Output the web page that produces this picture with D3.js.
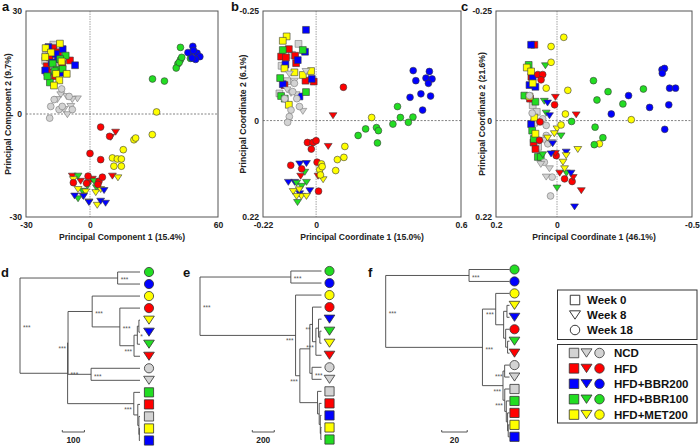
<!DOCTYPE html>
<html><head><meta charset="utf-8">
<script src="https://cdn.jsdelivr.net/npm/d3@7"></script>
<style>body{margin:0;background:#fff} svg text{font-family:"Liberation Sans",Arial,sans-serif}</style>
</head><body><svg id="chart" width="700" height="447"></svg>
<script>
// ---------------- DATA ----------------
const groups = ["NCD","HFD","HFD+BBR200","HFD+BBR100","HFD+MET200"];
const groupColors = {"NCD":"#d3d3d3","HFD":"#ff0000","HFD+BBR200":"#0000ff","HFD+BBR100":"#22dd22","HFD+MET200":"#ffff00"};
const weeks = ["Week 0","Week 8","Week 18"];   // square, triangle, circle

// Panel a: PCA scores  [group, weekIndex, points]
const pcaA = [
 ["NCD",0,[[-17.2,20.2],[-20.8,17],[-14.1,13.7],[-19,18.5],[-16,16],[-18,14],[-12.5,16.5],[-21,15.5]]],
 ["HFD",0,[[-17.2,19.2],[-9.4,15.6],[-20.3,13.9],[-20,12.1],[-15,18],[-19,16.5],[-13,14.5],[-16.5,11]]],
 ["HFD+BBR200",0,[[-19.5,19.5],[-12.8,18.9],[-7,14.2],[-21,12.7],[-15,16],[-14,12],[-18,15],[-16,17.5]]],
 ["HFD+BBR100",0,[[-11.4,17],[-17.5,14.7],[-15.6,12.9],[-12.8,13.1],[-18.8,9.2],[-14,16],[-16.5,12.5],[-20,11]]],
 ["HFD+MET200",0,[[-14.1,20.5],[-20.8,19.2],[-18.3,17.9],[-21,16.6],[-13.3,15.3],[-15.9,11.7],[-10.9,11.7],[-14.4,9.8],[-16.9,8.3]]],
 ["NCD",1,[[-5.9,4.4],[-8.3,4.2],[-10.9,5.1],[-13.7,5.6],[-10.6,-0.2],[-12.2,1.3],[-15.3,4.2],[-9,2.2]]],
 ["NCD",2,[[-13.3,7.3],[-16.8,4.2],[-18.4,2.2],[-14.5,1.3],[-18.9,-1.2],[-8.3,1.3],[-9.8,5.1],[-13,2.2]]],
 ["HFD",1,[[12,-5.3],[9.7,-6.8],[10.5,-18.1],[-8.3,-18.1],[-4.4,-19.6],[-0.5,-20],[1.1,-19]]],
 ["HFD+BBR100",1,[[-5.6,-18.1],[-5.6,-24.7],[1.9,-19.6],[-1.2,-21],[-3.5,-22.5],[3,-21.5]]],
 ["HFD+MET200",1,[[13.1,-18.6],[-5.6,-22],[-2,-22.7],[3.4,-26.6],[-0.5,-25.6],[-3.3,-23.9],[2.7,-22.9],[5,-22],[-7.8,-19.1]]],
 ["HFD+BBR200",1,[[-7.2,-23.9],[-0.5,-25.8],[5,-25.4],[7.3,-26],[6.6,-22.3],[-3,-24]]],
 ["HFD",2,[[5,-3.8],[9.2,-6.5],[0,-11.5],[5,-13.3],[-7.8,-20],[-0.9,-18.1],[4.2,-19.6],[5.8,-18.4],[-1.6,-20.2],[3.7,-20.5]]],
 ["HFD+MET200",2,[[31.2,0.6],[29.2,-6],[20.6,-7.5],[21.4,-7],[15.6,-10.4],[10.5,-12.8],[12.8,-13.1],[14.7,-13.1],[11.2,-15.2],[14.7,-15.2]]],
 ["HFD+BBR100",2,[[42.4,19.4],[42.4,15.8],[41.2,14.6],[40.4,13.4],[41.8,15],[29.3,10.2],[34.9,9.6],[47.1,16.2],[43,16.5]]],
 ["HFD+BBR200",2,[[48.2,19.7],[47.1,17.7],[50.2,17.7],[51.5,16.7],[49.5,15.9],[45.9,17.9],[48.5,18.5],[47.8,16.3]]]
];

// Panel b: PCoA scores
const pcoaB = [
 ["NCD",0,[[-0.073,-0.175],[-0.143,-0.125],[-0.152,-0.062],[-0.10,-0.15],[-0.12,-0.09]]],
 ["HFD",0,[[-0.113,-0.163],[-0.145,-0.146],[-0.125,-0.144],[-0.087,-0.148],[-0.083,-0.131],[-0.044,-0.091],[-0.010,-0.089],[-0.131,-0.081]]],
 ["HFD+BBR200",0,[[-0.042,-0.207],[-0.046,-0.157],[-0.076,-0.138],[-0.127,-0.128],[-0.138,-0.083],[-0.018,-0.095],[-0.069,-0.055]]],
 ["HFD+BBR100",0,[[-0.138,-0.161],[-0.055,-0.161],[-0.149,-0.097],[-0.145,-0.056],[-0.042,-0.065],[-0.13,-0.05]]],
 ["HFD+MET200",0,[[-0.122,-0.192],[-0.138,-0.182],[-0.131,-0.119],[-0.090,-0.110],[-0.055,-0.104],[-0.021,-0.113],[-0.113,-0.036]]],
 ["NCD",1,[[-0.111,-0.106],[-0.042,-0.112],[-0.104,-0.062],[-0.083,-0.059],[-0.055,-0.021],[-0.12,-0.07],[-0.09,-0.09]]],
 ["NCD",2,[[-0.090,-0.085],[-0.097,-0.066],[-0.069,-0.032],[-0.104,-0.024],[-0.111,-0.009],[-0.118,0.004],[-0.13,-0.05],[-0.08,-0.05]]],
 ["HFD",1,[[0.070,-0.011],[0.050,0.059],[0.008,0.127],[-0.064,0.127]]],
 ["HFD+BBR200",1,[[-0.068,0.099],[-0.040,0.098],[-0.089,0.141],[-0.026,0.16],[-0.068,0.167],[-0.115,0.141]]],
 ["HFD+BBR100",1,[[-0.047,0.118],[-0.077,0.187],[-0.081,0.143],[-0.040,0.141],[-0.060,0.150]]],
 ["HFD+MET200",1,[[-0.095,0.162],[-0.061,0.173],[-0.040,0.173],[-0.081,0.173],[0.029,0.135],[-0.070,0.158]]],
 ["HFD",2,[[0.113,-0.076],[-0.036,0.05],[-0.013,0.05],[0.0,0.046],[-0.02,0.065],[0.004,0.095],[-0.105,0.102],[0.010,0.161],[-0.06,0.11]]],
 ["HFD+MET200",2,[[0.230,-0.007],[0.119,0.059],[0.115,0.084],[0.088,0.089],[0.081,0.114],[0.022,0.099],[0.015,0.112],[0.018,0.124],[0.025,0.105]]],
 ["HFD+BBR100",2,[[0.337,-0.032],[0.349,-0.007],[0.401,-0.008],[0.382,0.004],[0.318,0.008],[0.250,0.016],[0.205,0.019],[0.174,0.034],[0.258,0.023],[0.254,0.051]]],
 ["HFD+BBR200",2,[[0.402,-0.114],[0.413,-0.091],[0.455,-0.097],[0.469,-0.112],[0.480,-0.095],[0.465,-0.085],[0.389,-0.053],[0.434,-0.061],[0.474,-0.056],[0.441,-0.024]]]
];

// Panel c: PCoA scores
const pcoaC = [
 ["NCD",0,[[0.09,-0.035],[0.075,-0.02],[0.085,0.005],[0.07,0.06]]],
 ["HFD",0,[[0.084,-0.173],[0.087,0.050],[0.095,-0.10],[0.08,0.065],[0.10,-0.05]]],
 ["HFD+BBR200",0,[[0.096,-0.173],[0.102,-0.081],[0.080,-0.077],[0.096,0.008],[0.09,-0.10]]],
 ["HFD+BBR100",0,[[0.105,-0.127],[0.121,-0.057],[0.080,-0.043],[0.092,0.023],[0.086,0.042],[0.071,0.083],[0.06,0.083]]],
 ["HFD+MET200",0,[[0.112,-0.121],[0.096,-0.112],[0.102,-0.055],[0.084,-0.007],[0.09,-0.085],[0.08,0.03]]],
 ["NCD",2,[[0.102,-0.057],[0.092,-0.017],[0.053,-0.004],[0.040,0.011],[0.040,0.034],[0.034,0.053],[0.047,0.095],[0.018,0.129],[0.024,0.172]]],
 ["NCD",1,[[0.047,0.045],[0.040,0.129],[0.028,0.110],[0.06,0.10],[0.02,0.05]]],
 ["HFD",2,[[0.071,-0.105],[0.053,-0.105],[0.059,-0.093],[0.063,0.003],[0.065,0.045],[0.009,-0.036],[0.003,0.080],[-0.028,0.133],[-0.056,0.139]]],
 ["HFD",1,[[0.006,-0.053],[-0.071,-0.013],[-0.090,0.160],[0.006,0.075],[-0.06,0.13],[-0.01,0.12]]],
 ["HFD+BBR100",1,[[0.043,-0.125],[0.047,-0.044],[0.040,-0.017],[0.0,0.154],[0.053,0.078],[-0.015,0.035],[-0.035,0.12]]],
 ["HFD+BBR200",1,[[0.028,-0.011],[0.016,0.053],[0.022,0.076],[-0.034,0.072],[-0.065,0.197],[-0.052,0.120],[0.035,-0.04]]],
 ["HFD+MET200",1,[[0.0,0.019],[-0.077,0.066],[-0.034,0.080],[-0.022,0.095],[-0.028,0.110],[0.035,0.04],[0.01,0.03]]],
 ["HFD+MET200",2,[[-0.025,-0.190],[0.022,-0.169],[0.022,-0.133],[0.040,-0.074],[-0.040,-0.069],[-0.031,-0.015],[-0.015,0.010],[-0.275,-0.002],[-0.157,0.053]]],
 ["HFD+BBR100",2,[[-0.135,-0.091],[-0.189,-0.066],[-0.148,-0.047],[-0.244,-0.038],[-0.320,-0.072],[-0.054,0.002],[-0.141,0.015],[-0.170,0.039],[-0.138,0.055]]],
 ["HFD+BBR200",2,[[-0.389,-0.116],[-0.398,-0.119],[-0.390,-0.108],[-0.417,-0.074],[-0.439,-0.074],[-0.414,-0.036],[-0.343,-0.030],[-0.265,-0.057],[-0.201,-0.015],[-0.399,0.020]]]
];

// axis domains and tick labels
const domainA = {x:[-30,60], y:[30,-30]};
const ticksA  = {x:[-30,0,60], xl:["-30","0","60"], y:[30,0,-30], yl:["30","0","-30"]};
const domainB = {x:[-0.22,0.6], y:[-0.25,0.22]};
const ticksB  = {x:[-0.22,0,0.6], xl:["-0.22","0","0.6"], y:[-0.25,0,0.22], yl:["-0.25","0","0.22"]};
const domainC = {x:[0.226,-0.5], y:[-0.25,0.22]};
const ticksC  = {x:[0.226,0,-0.5], xl:["0.2","0","-0.5"], y:[-0.25,0,0.22], yl:["-0.25","0","0.22"]};
const titles = {
  a:["Principal Component 1 (15.4%)","Principal Component 2 (9.7%)"],
  b:["Principal Coordinate 1 (15.0%)","Principal Coordinate 2 (6.1%)"],
  c:["Principal Coordinate 1 (46.1%)","Principal Coordinate 2 (21.6%)"]
};

// Dendrograms: N(height, significance, children) / L(group, weekIndex)
function N(h, sig, c){ return {h, sig, children:c}; }
function L(g, w){ return {g, w}; }
const treeD = N(0,"***",[
  N(441,"***",[L("HFD+BBR100",2),L("HFD+BBR200",2)]),
  N(215,"***",[
    N(217,"***",[
      N(326,"***",[L("HFD+MET200",2), N(451,"***",[L("HFD",2), N(515,"***",[N(530,"*",[N(537,"",[L("HFD+MET200",1),L("HFD+BBR200",1)]),L("HFD+BBR100",1)]),L("HFD",1)])])]),
      N(321,"***",[L("NCD",2),L("NCD",1)])
    ]),
    N(514,"***",[L("HFD+BBR100",0), N(532,"",[L("HFD",0), N(537,"",[L("NCD",0), N(539,"",[L("HFD+MET200",0),L("HFD+BBR200",0)])])])])
  ])
]);
const treeDMax = 542, treeDBar = 100;
const treeE = N(0,"***",[
  N(827,"***",[L("HFD+BBR100",2),L("HFD+BBR200",2)]),
  N(870,"***",[L("HFD+MET200",2),
    N(909,"***",[
      N(1000,"",[
        N(1024,"**",[L("HFD",2), N(1055,"***",[N(1079,"",[L("HFD+BBR200",1), N(1091,"",[L("HFD+BBR100",1),L("HFD+MET200",1)])]),L("HFD",1)])]),
        N(1020,"***",[L("NCD",2),L("NCD",1)])
      ]),
      N(1070,"",[L("NCD",0), N(1085,"",[L("HFD",0), N(1095,"",[L("HFD+BBR200",0), N(1100,"",[L("HFD+MET200",0),L("HFD+BBR100",0)])])])])
    ])
  ])
]);
const treeEMax = 1106, treeEBar = 200;
const treeF = N(0,"***",[
  N(65.3,"***",[L("HFD+BBR100",2),L("HFD+BBR200",2)]),
  N(75.8,"***",[
    N(86.2,"***",[L("HFD+MET200",2),
      N(92.4,"",[N(95,"",[L("HFD+MET200",1),L("HFD+BBR200",1)]), N(94,"",[L("HFD",2), N(95.5,"",[L("HFD+BBR100",1),L("HFD",1)])])])]),
    N(91.9,"***",[N(93.2,"***",[L("NCD",2),L("NCD",1)]),
      N(93.3,"***",[L("NCD",0), N(94.5,"",[L("HFD+BBR100",0), N(95.5,"",[L("HFD",0), N(96,"",[L("HFD+MET200",0),L("HFD+BBR200",0)])])])])])
  ])
]);
const treeFMax = 97, treeFBar = 20;

// which node labels sit left of their node (by node height)
const leftLabelsD = [515, 514, 217];
const leftLabelsE = [870, 909, 1024, 1055];
const leftLabelsF = [86.2, 91.9, 93.2, 93.3];

// ---------------- DRAWING ----------------
const svg = d3.select("#chart");
const STROKE = "#3a3a3a";

function shapePath(w, s){
  if (w===0) return `M${-s/2},${-s/2}h${s}v${s}h${-s}Z`;
  if (w===1){ const h=s*0.88; return `M${-s*0.58},${-h/2}L${s*0.58},${-h/2}L0,${h/2}Z`; }
  const r=s/2; return `M${-r},0a${r},${r} 0 1,0 ${2*r},0a${r},${r} 0 1,0 ${-2*r},0Z`;
}
function drawSym(sel, g, w, s, fill){
  return sel.append("path").attr("d", shapePath(w,s))
    .attr("fill", fill || groupColors[g])
    .attr("stroke", g==="NCD" ? "#777" : STROKE).attr("stroke-width",0.6);
}

function scatter(opt){
  const {x0,x1,y0,y1} = opt.frame;
  const xs = d3.scaleLinear().domain(opt.dom.x).range([x0,x1]);
  const ys = d3.scaleLinear().domain(opt.dom.y).range([y0,y1]);
  const g = svg.append("g");
  g.append("line").attr("x1",xs(0)).attr("x2",xs(0)).attr("y1",y0).attr("y2",y1)
    .attr("stroke","#9a9a9a").attr("stroke-width",0.9).attr("stroke-dasharray","1.5,1");
  g.append("line").attr("x1",x0).attr("x2",x1).attr("y1",ys(0)).attr("y2",ys(0))
    .attr("stroke","#666").attr("stroke-width",0.8).attr("stroke-dasharray","2,1.5");
  opt.data.forEach(([grp,w,pts])=>{
    pts.forEach(p=>{
      drawSym(g.append("g").attr("transform",`translate(${xs(p[0])},${ys(p[1])})`), grp, w, 6.8);
    });
  });
  g.append("rect").attr("x",x0).attr("y",y0).attr("width",x1-x0).attr("height",y1-y0)
    .attr("fill","none").attr("stroke","#555").attr("stroke-width",1);
  const ax = d3.axisBottom(xs).tickValues(opt.ticks.x).tickSize(0).tickPadding(5)
      .tickFormat((d,i)=>opt.ticks.xl[i]);
  const ay = d3.axisLeft(ys).tickValues(opt.ticks.y).tickSize(0).tickPadding(4)
      .tickFormat((d,i)=>opt.ticks.yl[i]);
  const gx = g.append("g").attr("transform",`translate(0,${y1})`).call(ax);
  const gy = g.append("g").attr("transform",`translate(${x0},0)`).call(ay);
  [gx,gy].forEach(a=>{ a.select(".domain").remove();
    a.selectAll("text").attr("font-size",8.6).attr("font-weight","bold").attr("fill","#222")
     .attr("font-family","Liberation Sans, Arial, sans-serif"); });
  g.append("text").attr("x",(x0+x1)/2).attr("y",y1+23).attr("text-anchor","middle")
    .attr("font-size",8.6).attr("font-weight","bold").attr("fill","#222").text(opt.titles[0]);
  g.append("text").attr("transform",`translate(${opt.ytx},${(y0+y1)/2}) rotate(-90)`)
    .attr("text-anchor","middle").attr("font-size",8.6).attr("font-weight","bold").attr("fill","#222").text(opt.titles[1]);
  g.append("text").attr("x",opt.lx).attr("y",11).attr("font-size",13).attr("font-weight","bold").attr("fill","#111").text(opt.letter);
}

scatter({frame:{x0:26,x1:218,y0:11,y1:217}, dom:domainA, ticks:ticksA, data:pcaA, titles:titles.a, ytx:11, lx:2, letter:"a"});
scatter({frame:{x0:263,x1:461,y0:11,y1:217}, dom:domainB, ticks:ticksB, data:pcoaB, titles:titles.b, ytx:246, lx:231, letter:"b"});
scatter({frame:{x0:496,x1:692,y0:11,y1:217}, dom:domainC, ticks:ticksC, data:pcoaC, titles:titles.c, ytx:485, lx:461, letter:"c"});

function dendro(opt){
  const xs = d3.scaleLinear().domain([0,opt.max]).range([opt.rootX, opt.tipX]);
  const leafY = d3.scaleLinear().domain([0,14]).range([opt.top, opt.bottom]);
  const root = d3.hierarchy(opt.tree);
  let k = 0;
  root.eachAfter(n=>{
    if (!n.children){ n.py = leafY(k++); n.px = opt.tipX; }
    else { n.py = (n.children[0].py + n.children[n.children.length-1].py)/2; n.px = xs(n.data.h); }
  });
  const g = svg.append("g");
  root.each(n=>{
    if (!n.children) return;
    g.append("line").attr("x1",n.px).attr("x2",n.px)
      .attr("y1",n.children[0].py).attr("y2",n.children[n.children.length-1].py);
    n.children.forEach(c=>{
      g.append("line").attr("x1",n.px).attr("x2",c.px).attr("y1",c.py).attr("y2",c.py);
    });
  });
  g.selectAll("line").attr("stroke","#444").attr("stroke-width",0.9);
  root.each(n=>{
    if (n.children && n.data.sig){
      const left = opt.left.includes(n.data.h);
      g.append("text").attr("x", left ? n.px-2 : n.px+3).attr("y", left ? n.py+8 : n.py+4.2)
        .attr("text-anchor", left ? "end" : "start")
        .attr("font-size",6.5).attr("fill","#555").text(n.data.sig);
    }
  });
  root.leaves().forEach(l=>{
    drawSym(g.append("g").attr("transform",`translate(${opt.symX},${l.py})`), l.data.g, l.data.w, 9.2)
      .attr("stroke","#333").attr("stroke-width",0.8);
  });
  const bw = xs(opt.bar) - xs(0);
  g.append("path").attr("d",`M${opt.barX},${opt.barY-2}V${opt.barY}H${opt.barX+bw}V${opt.barY-2}`)
    .attr("fill","none").attr("stroke","#444").attr("stroke-width",0.9);
  g.append("text").attr("x",opt.barX+bw/2).attr("y",opt.barY+10.5).attr("text-anchor","middle")
    .attr("font-size",8.4).attr("font-weight","bold").attr("fill","#222").text(opt.bar);
  g.append("text").attr("x",opt.lx).attr("y",277).attr("font-size",13).attr("font-weight","bold").attr("fill","#111").text(opt.letter);
}
dendro({tree:treeD, max:treeDMax, bar:treeDBar, left:leftLabelsD, rootX:20, tipX:140, symX:149, top:272, bottom:440.5, barX:62.3, barY:432, lx:1, letter:"d"});
dendro({tree:treeE, max:treeEMax, bar:treeEBar, left:leftLabelsE, rootX:200, tipX:321.5, symX:329.5, top:271, bottom:439.5, barX:252.3, barY:432, lx:183, letter:"e"});
dendro({tree:treeF, max:treeFMax, bar:treeFBar, left:leftLabelsF, rootX:385.7, tipX:509.5, symX:514.5, top:269.5, bottom:436.8, barX:441.7, barY:432, lx:368, letter:"f"});

// legends
const lg = svg.append("g");
lg.append("rect").attr("x",557.5).attr("y",290).attr("width",139.5).attr("height",49.5)
  .attr("fill","#fff").attr("stroke","#333").attr("stroke-width",1);
weeks.forEach((w,i)=>{
  const y = 300 + i*15;
  drawSym(lg.append("g").attr("transform",`translate(575,${y})`), "x", i, 9.5, "#fff")
    .attr("stroke","#222").attr("stroke-width",0.9);
  lg.append("text").attr("x",587).attr("y",y+4.2).attr("font-size",11.5).attr("font-weight","bold")
    .attr("fill","#111").text(w);
});
lg.append("rect").attr("x",557.5).attr("y",344.5).attr("width",139.5).attr("height",78.5)
  .attr("fill","#fff").attr("stroke","#333").attr("stroke-width",1);
groups.forEach((gname,i)=>{
  const y = 353 + i*15.4;
  [574,586.5,599.5].forEach((x,w)=>{
    drawSym(lg.append("g").attr("transform",`translate(${x},${y})`), gname, w, 9.5)
      .attr("stroke","#333").attr("stroke-width",0.8);
  });
  lg.append("text").attr("x",614).attr("y",y+4.2).attr("font-size",11.5).attr("font-weight","bold")
    .attr("fill","#111").text(gname);
});
</script></body></html>
